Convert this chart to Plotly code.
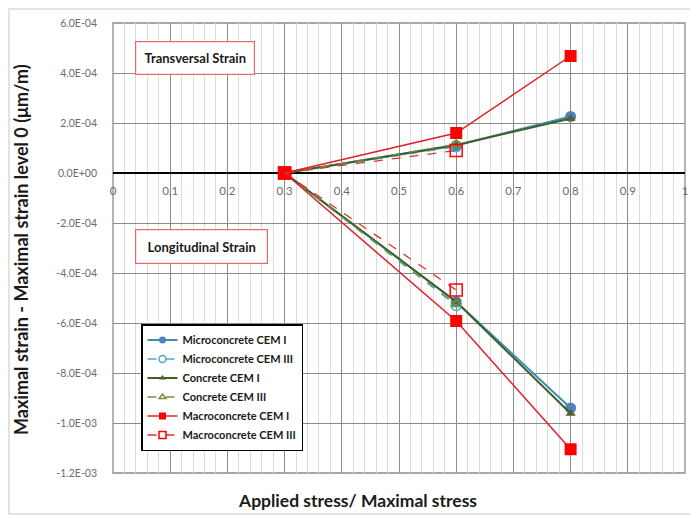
import plotly.graph_objects as go

# ---- data ----
stress = [0.3, 0.6, 0.8]
series_names = ["Microconcrete CEM I", "Microconcrete CEM III", "Concrete CEM I",
                "Concrete CEM III", "Macroconcrete CEM I", "Macroconcrete CEM III"]

micro_cem1_trans = [0.0, 1.10e-4, 2.26e-4]
micro_cem1_long = [0.0, -5.15e-4, -9.40e-4]
micro_cem3_trans = [0.0, 1.05e-4]
micro_cem3_long = [0.0, -5.30e-4]
concrete_cem1_trans = [0.0, 1.12e-4, 2.18e-4]
concrete_cem1_long = [0.0, -5.15e-4, -9.62e-4]
concrete_cem3_trans = [0.0, 1.15e-4]
concrete_cem3_long = [0.0, -5.25e-4]
macro_cem1_trans = [0.0, 1.60e-4, 4.68e-4]
macro_cem1_long = [0.0, -5.92e-4, -1.105e-3]
macro_cem3_trans = [0.0, 0.90e-4]
macro_cem3_long = [0.0, -4.68e-4]

y_ticks = [6e-4, 4e-4, 2e-4, 0, -2e-4, -4e-4, -6e-4, -8e-4, -1e-3, -1.2e-3]
y_tick_labels = ["6.0E-04", "4.0E-04", "2.0E-04", "0.0E+00", "-2.0E-04", "-4.0E-04",
                 "-6.0E-04", "-8.0E-04", "-1.0E-03", "-1.2E-03"]
x_ticks = [0, 0.1, 0.2, 0.3, 0.4, 0.5, 0.6, 0.7, 0.8, 0.9, 1]
x_tick_labels = ["0", "0.1", "0.2", "0.3", "0.4", "0.5", "0.6", "0.7", "0.8", "0.9", "1"]

trans = [micro_cem1_trans, micro_cem3_trans, concrete_cem1_trans,
         concrete_cem3_trans, macro_cem1_trans, macro_cem3_trans]
longi = [micro_cem1_long, micro_cem3_long, concrete_cem1_long,
         concrete_cem3_long, macro_cem1_long, macro_cem3_long]

styles = [
    dict(color="#4F81BD", lcolor="#3E8FB0", symbol="circle", size=11, lsize=7, dash="solid", width=2),
    dict(color="#4BACC6", lcolor="#4BACC6", symbol="circle-open", size=10, lsize=7, dash="dash", width=1.3),
    dict(color="#4F6228", lcolor="#3F5F2A", symbol="triangle-up", size=9, lsize=6, dash="solid", width=2),
    dict(color="#77933C", lcolor="#77933C", symbol="triangle-up-open", size=9, lsize=6, dash="dash", width=1.3),
    dict(color="#FF0000", lcolor="#E0202A", symbol="square", size=12, lsize=7, dash="solid", width=1.5),
    dict(color="#FF0000", lcolor="#E03030", symbol="square-open", size=12, lsize=7, dash="dash", width=1.3),
]

fig = go.Figure()
for name, t, l, s in zip(series_names, trans, longi, styles):
    xs = stress[:len(t)] + [None] + stress[:len(l)]
    ys = t + [None] + l
    mline = dict(color=s["color"], width=1.5 if "open" in s["symbol"] else 0)
    fig.add_trace(go.Scatter(
        x=xs, y=ys, name=name, mode="lines+markers", connectgaps=False,
        showlegend=False, legendgroup=name,
        line=dict(color=s["lcolor"], width=s["width"], dash=s["dash"]),
        marker=dict(symbol=s["symbol"], size=s["size"], color=s["color"], line=mline),
    ))
    # legend entry with smaller symbol, as in the reference
    fig.add_trace(go.Scatter(
        x=[None], y=[None], name=name, mode="lines+markers", legendgroup=name,
        line=dict(color=s["lcolor"], width=s["width"], dash=s["dash"]),
        marker=dict(symbol=s["symbol"], size=s["lsize"], color=s["color"], line=mline),
    ))

font_family = "Lato, 'Open Sans', Arial, sans-serif"
# plot area in screen pixels (page has an 8px body offset)
OFF = 8
PL, PR, PT, PB = 113, 685, 23, 473
W_PLOT = float(PR - PL)
H_PLOT = float(PB - PT)


def px(x):
    return (x - PL) / W_PLOT


def py(y):
    return (PB - y) / H_PLOT


fig.update_layout(
    width=698, height=518,
    margin=dict(l=PL - OFF, r=698 - (PR - OFF), t=PT - OFF, b=518 - (PB - OFF), autoexpand=False),
    paper_bgcolor="white", plot_bgcolor="white",
    font=dict(family=font_family, color="#222222"),
    showlegend=True,
    legend=dict(x=px(141), y=py(324), xanchor="left", yanchor="top",
                bordercolor="black", borderwidth=1.5, bgcolor="white",
                font=dict(size=11, color="#1a1a1a", family=font_family, weight="bold"),
                tracegroupgap=0, itemwidth=30),
    xaxis=dict(range=[0, 1], tickvals=x_ticks, ticktext=x_tick_labels,
               anchor="free", position=2/3, showline=False, ticks="", automargin=False,
               tickfont=dict(size=11.5, color="#6b6b6b"), ticklabelstandoff=9,
               showgrid=True, gridcolor="#8c8c8c", gridwidth=1.3,
               minor=dict(dtick=0.02, showgrid=True, gridcolor="#dcdcdc", gridwidth=1),
               zeroline=False),
    yaxis=dict(range=[-1.2e-3, 6e-4], tickvals=y_ticks, ticktext=y_tick_labels,
               tickfont=dict(size=10.5, color="#6b6b6b"), ticks="", automargin=False,
               ticklabelstandoff=15,
               showgrid=True, gridcolor="#8c8c8c", gridwidth=1.3,
               zeroline=True, zerolinecolor="black", zerolinewidth=2),
    annotations=[
        dict(text="<b>Maximal strain - Maximal strain level 0 (μm/m)</b>", xref="paper", yref="paper",
             x=px(21), y=py(250), xanchor="center", yanchor="middle", textangle=-90,
             showarrow=False, font=dict(size=18, color="#1a1a1a")),
        dict(text="<b>Applied stress/ Maximal stress</b>", xref="paper", yref="paper",
             x=px(357), y=py(500), xanchor="center", yanchor="middle",
             showarrow=False, font=dict(size=17.5, color="#1a1a1a")),
        dict(text="<b>Transversal Strain</b>", xref="paper", yref="paper",
             x=px(195), y=py(58), xanchor="center", yanchor="middle",
             showarrow=False, width=116, height=30,
             bgcolor="white", bordercolor="#E06A6A", borderwidth=1.2,
             font=dict(size=13, color="#1a1a1a")),
        dict(text="<b>Longitudinal Strain</b>", xref="paper", yref="paper",
             x=px(201), y=py(246), xanchor="center", yanchor="middle",
             showarrow=False, width=129, height=31,
             bgcolor="white", bordercolor="#E06A6A", borderwidth=1.2,
             font=dict(size=13, color="#1a1a1a")),
    ],
    shapes=[
        dict(type="rect", xref="paper", yref="paper", x0=0, x1=1, y0=0, y1=1,
             line=dict(color="#8c8c8c", width=1.3), layer="below"),
        dict(type="rect", xref="paper", yref="paper",
             x0=px(OFF + 1), x1=px(696), y0=py(514), y1=py(OFF + 1),
             line=dict(color="#d9d9d9", width=1.5), layer="below"),
    ],
)

fig.write_html("out.html")
